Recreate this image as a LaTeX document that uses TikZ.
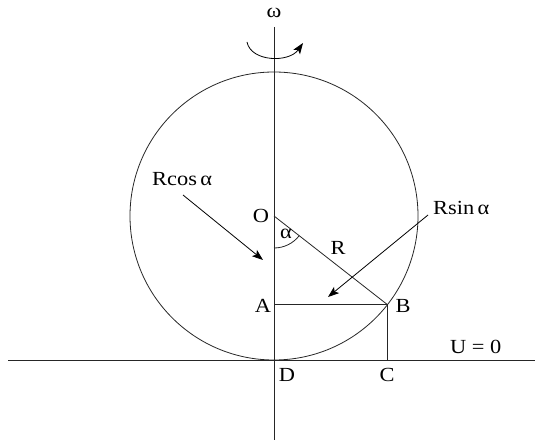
\documentclass[tikz,border=0pt]{standalone}
\usepackage{fontspec}
\setmainfont{Liberation Serif}[FakeStretch=1.12]
\usetikzlibrary{arrows.meta}
\begin{document}
\begin{tikzpicture}[x=1pt,y=-1pt,
  line/.style={line width=0.8pt,black!85},
  ptr/.style={line width=0.8pt,-{Stealth[length=11pt,width=8pt,inset=2.5pt]}},
  lbl/.style={inner sep=0pt,font=\fontsize{20}{24}\selectfont}]
\useasboundingbox (0,0) rectangle (535,443);
% main points
\coordinate (O) at (274,216);
\coordinate (B) at (387.5,304.7);
\coordinate (A) at (274,304.7);
\coordinate (C) at (387.5,360);
\coordinate (D) at (274,360);
\coordinate (axT) at (274,27);
\coordinate (axB) at (274,440);
\coordinate (hL) at (8,360);
\coordinate (hR) at (535,360);
% axis and ground line
\draw[line] (axT) -- (axB);
\draw[line] (hL) -- (hR);
% circle
\draw[line] (O) circle[radius=144];
% radius and projections
\draw[line] (O) -- (B);
\draw[line] (A) -- (B) -- (C);
% angle arc
\draw[line] (O) ++(90:32) arc[start angle=90,end angle=38,radius=32];
% rotation arrow
\coordinate (r1) at (247,42);
\coordinate (r2) at (303,43);
\draw[ptr] (r1) .. controls (251,62) and (289,63) .. (r2);
% labels
\node[lbl] (w) at (274,13) {ω};
\node[lbl] (lO) at (261,216) {O};
\node[lbl] (la) at (286,234) {α};
\node[lbl] (lR) at (338,248) {R};
\node[lbl] (lA) at (263,306) {A};
\node[lbl] (lB) at (403,306) {B};
\node[lbl] (lD) at (287,375) {D};
\node[lbl] (lC) at (387,375) {C};
\node[lbl,anchor=base west] (lU) at (450,353) {U = 0};
\node[lbl,anchor=base west] (lsin) at (433,215) {Rsin\,α};
\node[lbl,anchor=base west] (lcos) at (152,186) {Rcos\,α};
% pointer arrows
\coordinate (s1) at (428,215);
\coordinate (s2) at (328,297);
\coordinate (c1) at (183,195);
\coordinate (c2) at (263,260);
\draw[ptr] (s1) -- (s2);
\draw[ptr] (c1) -- (c2);
\end{tikzpicture}
\end{document}
